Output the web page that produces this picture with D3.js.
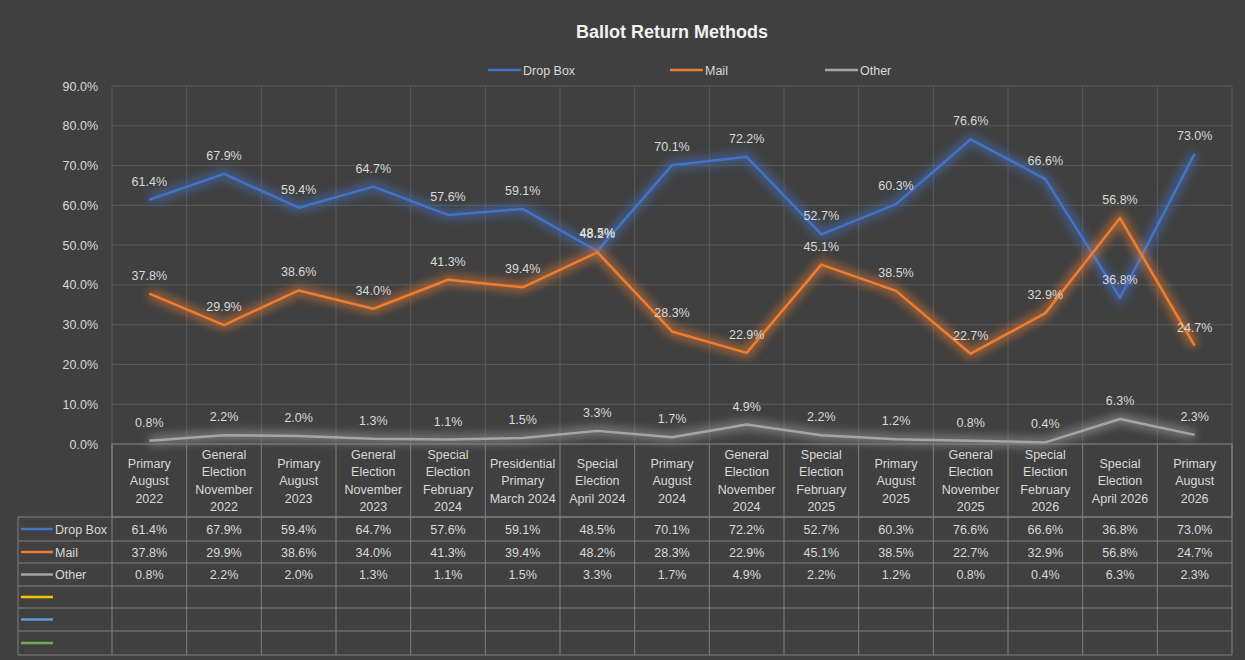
<!DOCTYPE html>
<html><head><meta charset="utf-8">
<script src="https://cdn.jsdelivr.net/npm/d3@7"></script>
<style>body{margin:0;background:#404040}svg{display:block}text{font-family:"Liberation Sans",Arial,sans-serif}</style>
</head><body><svg id="c" width="1245" height="660"></svg>
<script>
const categories=[["Primary","August","2022"],["General","Election","November","2022"],["Primary","August","2023"],["General","Election","November","2023"],["Special","Election","February","2024"],["Presidential","Primary","March 2024"],["Special","Election","April 2024"],["Primary","August","2024"],["General","Election","November","2024"],["Special","Election","February","2025"],["Primary","August","2025"],["General","Election","November","2025"],["Special","Election","February","2026"],["Special","Election","April 2026"],["Primary","August","2026"]];
const dropBox=[61.4,67.9,59.4,64.7,57.6,59.1,48.5,70.1,72.2,52.7,60.3,76.6,66.6,36.8,73.0];
const mail=[37.8,29.9,38.6,34.0,41.3,39.4,48.2,28.3,22.9,45.1,38.5,22.7,32.9,56.8,24.7];
const other=[0.8,2.2,2.0,1.3,1.1,1.5,3.3,1.7,4.9,2.2,1.2,0.8,0.4,6.3,2.3];
const yTicks=[0,10,20,30,40,50,60,70,80,90];
const series=[{name:"Drop Box",vals:dropBox,color:"#4472c4"},{name:"Mail",vals:mail,color:"#ed7d31"},{name:"Other",vals:other,color:"#a5a5a5"}];
const extraLegend=["#ffc000","#5b9bd5","#70ad47"];

const svg=d3.select("#c");
const L=112,R=1232,T=86,B=444,txt="#d9d9d9",grid="#595959",border="#808080";
const x=d3.scaleBand().domain(d3.range(categories.length)).range([L,R]);
const y=d3.scaleLinear().domain([0,90]).range([B,T]);
const defs=svg.append("defs");
series.forEach((s,i)=>{const f=defs.append("filter").attr("id","g"+i).attr("x","-10%").attr("y","-50%").attr("width","120%").attr("height","200%");
 f.append("feGaussianBlur").attr("stdDeviation",5);});

svg.append("text").attr("x",672).attr("y",38).attr("text-anchor","middle").attr("fill","#f2f2f2").attr("font-size",18).attr("font-weight","bold").text("Ballot Return Methods");
const lx=[488,670,825];
series.forEach((s,i)=>{svg.append("line").attr("x1",lx[i]).attr("x2",lx[i]+33).attr("y1",70).attr("y2",70).attr("stroke",s.color).attr("stroke-width",2.5);
 svg.append("text").attr("x",lx[i]+35).attr("y",74.5).attr("fill",txt).attr("font-size",12.5).text(s.name);});
svg.append("g").selectAll("line").data(yTicks).join("line").attr("x1",L).attr("x2",R).attr("y1",d=>y(d)).attr("y2",d=>y(d)).attr("stroke",grid);
svg.append("g").selectAll("line").data(d3.range(categories.length+1)).join("line").attr("x1",d=>L+d*x.step()).attr("x2",d=>L+d*x.step()).attr("y1",T).attr("y2",B).attr("stroke",grid);
svg.append("g").selectAll("text").data(yTicks).join("text").attr("x",98).attr("y",d=>y(d)+4.5).attr("text-anchor","end").attr("fill",txt).attr("font-size",12.5).text(d=>d.toFixed(1)+"%");
const cx=i=>x(i)+x.bandwidth()/2;
series.forEach((s,si)=>{const ln=d3.line().x((d,i)=>cx(i)).y(d=>y(d));
 svg.append("path").attr("d",ln(s.vals)).attr("fill","none").attr("stroke",s.color).attr("stroke-width",9).attr("opacity",0.6).attr("filter","url(#g"+si+")");
 svg.append("path").attr("d",ln(s.vals)).attr("fill","none").attr("stroke",s.color).attr("stroke-width",2.5).attr("stroke-linejoin","round");});
series.forEach(s=>{svg.append("g").selectAll("text").data(s.vals).join("text").attr("x",(d,i)=>cx(i)).attr("y",d=>y(d)-14).attr("text-anchor","middle").attr("fill",txt).attr("font-size",12.5).text(d=>d.toFixed(1)+"%");});
const rowY=[517,541,563,586,608,631,655];
const tb=svg.append("g").attr("stroke",border).attr("fill","none");
tb.append("rect").attr("x",L).attr("y",B).attr("width",R-L).attr("height",rowY[0]-B);
d3.range(categories.length+1).forEach(i=>tb.append("line").attr("x1",L+i*x.step()).attr("x2",L+i*x.step()).attr("y1",B).attr("y2",655));
tb.append("line").attr("x1",18).attr("x2",18).attr("y1",517).attr("y2",655);
rowY.forEach(r=>tb.append("line").attr("x1",18).attr("x2",R).attr("y1",r).attr("y2",r));
categories.forEach((c,i)=>{const n=c.length,mid=(B+517)/2;c.forEach((t,j)=>svg.append("text").attr("x",cx(i)).attr("y",mid+(j-(n-1)/2)*17.5+4.5).attr("text-anchor","middle").attr("fill",txt).attr("font-size",12.5).text(t));});
series.forEach((s,si)=>{const yc=(rowY[si]+rowY[si+1])/2;
 svg.append("line").attr("x1",21).attr("x2",53).attr("y1",yc).attr("y2",yc).attr("stroke",s.color).attr("stroke-width",2.5);
 svg.append("text").attr("x",55).attr("y",yc+4.5).attr("fill",txt).attr("font-size",12.5).text(s.name);
 s.vals.forEach((v,i)=>svg.append("text").attr("x",cx(i)).attr("y",yc+4.5).attr("text-anchor","middle").attr("fill",txt).attr("font-size",12.5).text(v.toFixed(1)+"%"));});
extraLegend.forEach((c,k)=>{const yc=(rowY[3+k]+rowY[4+k])/2;svg.append("line").attr("x1",21).attr("x2",53).attr("y1",yc).attr("y2",yc).attr("stroke",c).attr("stroke-width",2.5);});
</script></body></html>
